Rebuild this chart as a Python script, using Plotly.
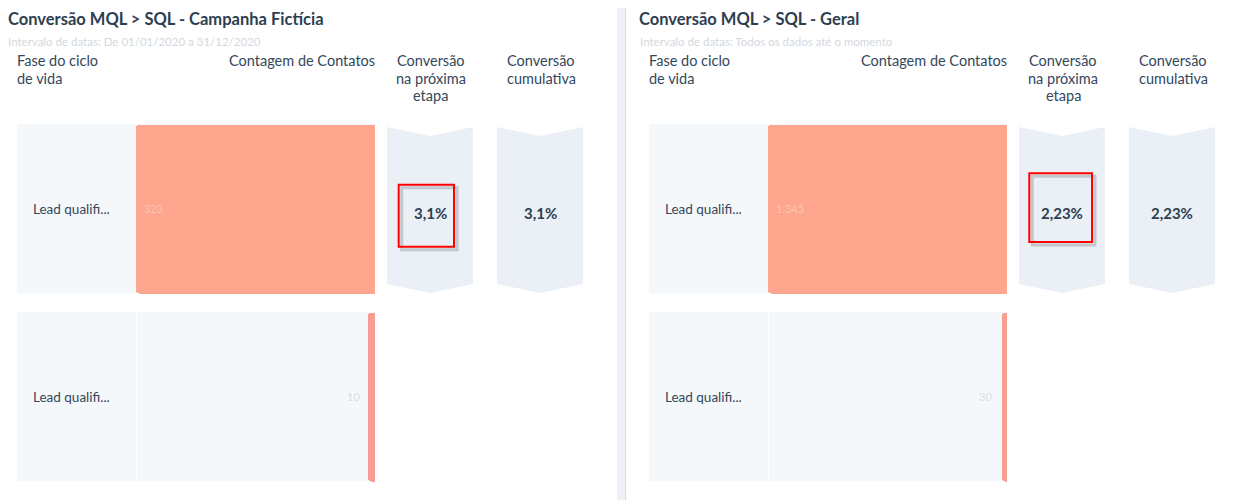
import plotly.graph_objects as go

# dados do funil
fases = ["Lead qualifi...", "Lead qualifi..."]
titulos = ["Conversão MQL > SQL - Campanha Fictícia", "Conversão MQL > SQL - Geral"]
subtitulos = ["Intervalo de datas: De 01/01/2020 a 31/12/2020",
              "Intervalo de datas: Todos os dados até o momento"]
contatos_campanha = [323, 10]
contatos_geral = [1345, 30]
cabecalhos = ["Fase do ciclo<br>de vida", "Contagem de Contatos",
              "Conversão<br>na próxima<br>etapa", "Conversão<br>cumulativa"]

# a pagina tem margem de 8px no body
W, H = 1241, 492
OFF = 8
TXT = "#33475b"
FONT = "Lato"


def px(x):
    return (x - OFF) / W


def py(y):
    return 1 - (y - OFF) / H


def ry(pix):
    # pixel vertical -> unidade da linha 0 do eixo y
    return (pix - 208.5) / 188


def pct(v):
    s = ("%.2f" % v).rstrip("0").rstrip(".")
    return s.replace(".", ",") + "%"


fig = go.Figure()
shapes = []
annotations = []

paineis = [contatos_campanha, contatos_geral]
offsets = [0, 632]
caixas = [(398.7, 184.7, 454, 246.7), (397.3, 173.3, 460, 242)]
desloc_rot = [-6, -8]

for i, (vals, off) in enumerate(zip(paineis, offsets)):
    xa = "x" if i == 0 else "x2"
    ya = "y" if i == 0 else "y2"
    fig.add_trace(go.Bar(
        x=vals, y=list(range(len(vals))), orientation="h", width=169 / 188,
        marker=dict(color=["#fda58d", "#f89d92"], cornerradius=3, line=dict(width=0)),
        hoverinfo="skip", xaxis=xa, yaxis=ya, showlegend=False))

    # titulo e subtitulo
    annotations.append(dict(text=titulos[i], x=px(6 + off - (1 if i else 0)), y=py(19), xref="paper", yref="paper",
                            xanchor="left", yanchor="middle", showarrow=False,
                            font=dict(family=FONT, size=16.5, color="#2d3e50", weight=700)))
    annotations.append(dict(text=subtitulos[i], x=px(6 + off), y=py(41), xref="paper", yref="paper",
                            xanchor="left", yanchor="middle", showarrow=False,
                            font=dict(family=FONT, size=11.5, color="#d3d8de")))

    # cabecalhos, uma linha de cada vez
    hx = [(15, "left"), (377, "right"), (431, "center"), (541, "center")]
    for txt, (x, anc) in zip(cabecalhos, hx):
        for k, linha in enumerate(txt.split("<br>")):
            annotations.append(dict(text=linha, x=px(x + off), y=py(61 + 17.5 * k), xref="paper", yref="paper",
                                    xanchor=anc, yanchor="middle", showarrow=False,
                                    font=dict(family=FONT, size=14.5, color=TXT)))

    # fundo das linhas
    for r in range(len(vals)):
        shapes.append(dict(type="rect", xref="paper", yref=ya, x0=px(17 + off), x1=px(375 + off),
                           y0=r - 0.45, y1=r + 0.45, fillcolor="#f5f8fa", line=dict(width=0), layer="below"))
        shapes.append(dict(type="line", xref="paper", yref=ya, x0=px(136.5 + off), x1=px(136.5 + off),
                           y0=r - 0.45, y1=r + 0.45, line=dict(color="white", width=1), layer="below"))
        annotations.append(dict(text=fases[r], x=px(31 + off), y=r, xref="paper", yref=ya,
                                xanchor="left", yanchor="middle", showarrow=False,
                                font=dict(family=FONT, size=13.5, color=TXT)))

    # contagens (borradas no original), na ponta de cada barra
    annotations.append(dict(text=f"{vals[0]:,}".replace(",", "."), x=vals[0], y=0, xref=xa, yref=ya,
                            xanchor="left", yanchor="middle", xshift=6, showarrow=False,
                            font=dict(family=FONT, size=11, color="#fcc6b6")))
    annotations.append(dict(text=str(vals[1]), x=vals[1], y=1, xref=xa, yref=ya,
                            xanchor="right", yanchor="middle", xshift=desloc_rot[i], showarrow=False,
                            font=dict(family=FONT, size=11, color="#d9dde3")))

    # chevrons de conversao
    prox = vals[1] / vals[0] * 100
    cum = vals[-1] / vals[0] * 100
    for cx0, valor in [(387, prox), (497, cum)]:
        x0, x1, xc = px(cx0 + off), px(cx0 + 86 + off), px(cx0 + 43 + off)
        path = (f"M {x0},{ry(127)} L {xc},{ry(136)} L {x1},{ry(127)} L {x1},{ry(284)} "
                f"L {xc},{ry(293)} L {x0},{ry(284)} Z")
        shapes.append(dict(type="path", xref="paper", yref=ya, path=path,
                           fillcolor="#eaf0f6", line=dict(width=0), layer="below"))
        annotations.append(dict(text=f"<b>{pct(valor)}</b>", x=xc, y=0, xref="paper", yref=ya,
                                xanchor="center", yanchor="middle", yshift=-4, showarrow=False,
                                font=dict(family=FONT, size=15, color="#2d3e50")))

    # caixa vermelha de destaque
    bx0, by0, bx1, by1 = caixas[i]
    shapes.append(dict(type="rect", xref="paper", yref="paper", x0=px(bx0 + off + 3), x1=px(bx1 + off + 3),
                       y0=py(by1 + 3), y1=py(by0 + 3), line=dict(color="rgba(60,60,60,0.22)", width=3)))
    shapes.append(dict(type="rect", xref="paper", yref="paper", x0=px(bx0 + off), x1=px(bx1 + off),
                       y0=py(by1), y1=py(by0), line=dict(color="#ff0000", width=2)))

# divisor entre os paineis
shapes.append(dict(type="rect", xref="paper", yref="paper", x0=px(617), x1=px(625), y0=0, y1=1,
                   fillcolor="#eef2f6", line=dict(width=0)))
shapes.append(dict(type="line", xref="paper", yref="paper", x0=px(625.5), x1=px(625.5), y0=0, y1=1,
                   line=dict(color="#d3dce6", width=1)))

ydom = [py(490.5), py(114.5)]
eixo_y = dict(domain=ydom, range=[1.5, -0.5], visible=False, fixedrange=True)
fig.update_layout(
    width=W, height=H, margin=dict(l=0, r=0, t=0, b=0),
    paper_bgcolor="white", plot_bgcolor="rgba(0,0,0,0)",
    xaxis=dict(domain=[px(136), px(375)], range=[contatos_campanha[0], 0], visible=False),
    yaxis=eixo_y,
    xaxis2=dict(domain=[px(768), px(1007)], range=[contatos_geral[0], 0], visible=False, anchor="y2"),
    yaxis2=dict(eixo_y, anchor="x2"),
    shapes=shapes, annotations=annotations, bargap=0,
)
fig.write_html("out.html")
